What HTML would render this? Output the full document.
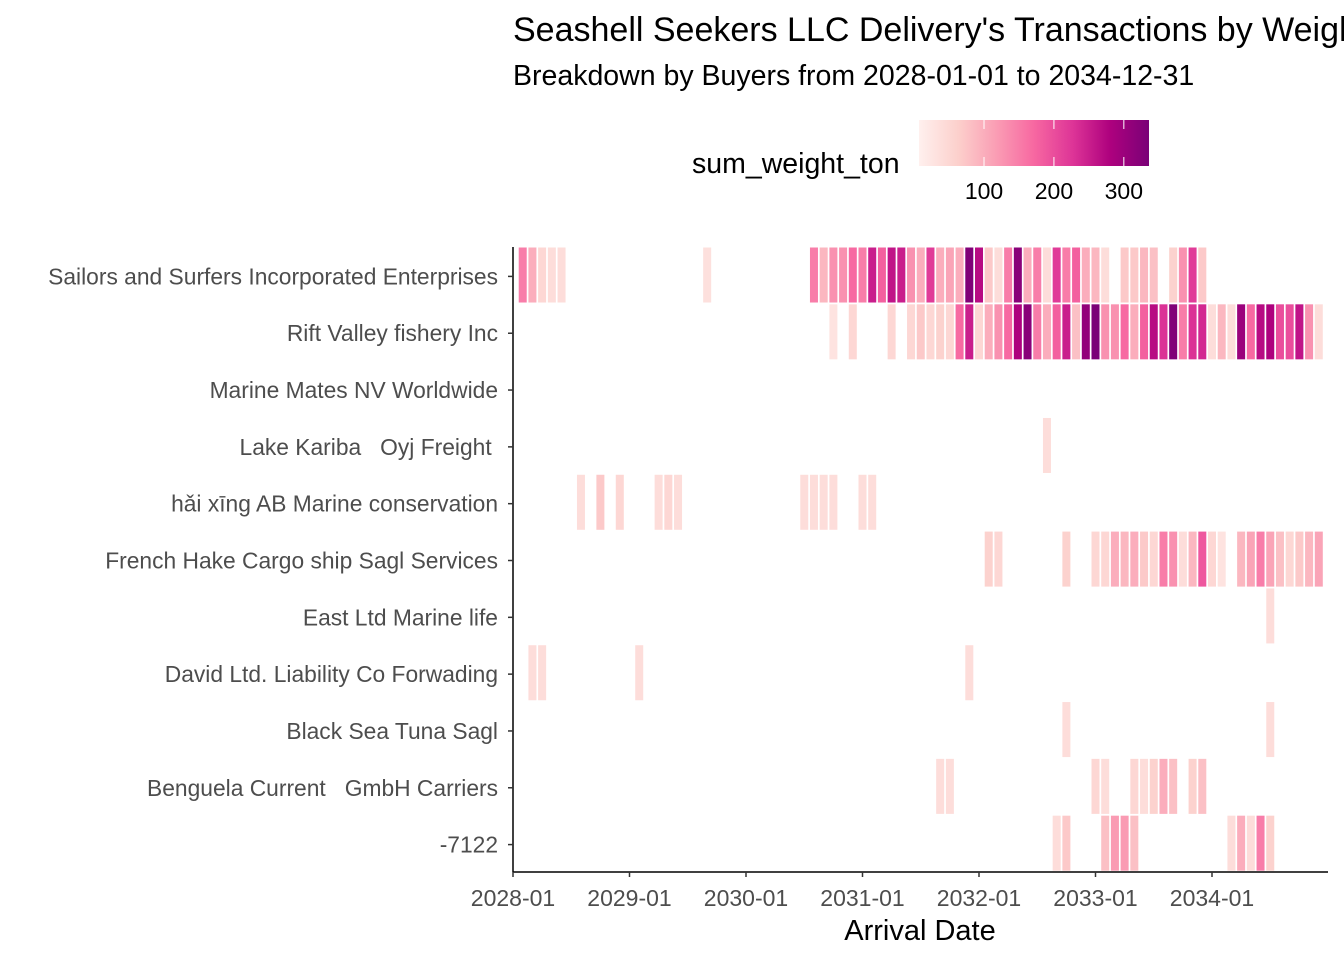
<!DOCTYPE html>
<html><head><meta charset="utf-8"><style>
body{margin:0;background:#fff;}
svg text{font-family:"Liberation Sans","DejaVu Sans",sans-serif;white-space:pre;}
</style></head><body>
<svg id="c" width="1344" height="960" xmlns="http://www.w3.org/2000/svg">
<defs><linearGradient id="lg" x1="0" x2="1" y1="0" y2="0">
<stop offset="0" stop-color="#fff0ee"/><stop offset="0.17" stop-color="#fcd0cc"/><stop offset="0.33" stop-color="#fa9fb5"/><stop offset="0.5" stop-color="#f768a1"/><stop offset="0.67" stop-color="#dd3497"/><stop offset="0.83" stop-color="#ae017e"/><stop offset="1" stop-color="#7a0177"/></linearGradient></defs>
<text x="513" y="41" font-size="34" fill="#000">Seashell Seekers LLC Delivery's Transactions by Weight</text>
<text x="513" y="85" font-size="28.5" fill="#000">Breakdown by Buyers from 2028-01-01 to 2034-12-31</text>
<g>
<text x="692" y="173" font-size="28.5" fill="#000">sum_weight_ton</text>
<rect x="919" y="120" width="230" height="46" fill="url(#lg)"/>
<g id="legticks"></g>
</g>
<g id="tiles"></g>
<g id="axes"></g>
<text x="920" y="940" font-size="29" text-anchor="middle" fill="#000">Arrival Date</text>
</svg>
<script>
const buyers=["Sailors and Surfers Incorporated Enterprises","Rift Valley fishery Inc","Marine Mates NV Worldwide","Lake Kariba   Oyj Freight ","hǎi xīng AB Marine conservation","French Hake Cargo ship Sagl Services","East Ltd Marine life","David Ltd. Liability Co Forwading","Black Sea Tuna Sagl","Benguela Current   GmbH Carriers","-7122"];
const xTickLabels=["2028-01","2029-01","2030-01","2031-01","2032-01","2033-01","2034-01"];
const legendTicks=[100,200,300];
// month index (0 = 2028-01) : weight, per buyer
const row0={1:150,2:100,3:50,4:40,5:40,20:35,31:150,32:90,33:130,34:130,35:170,36:150,37:250,38:180,39:260,40:250,41:130,42:100,43:220,44:100,45:110,46:100,47:330,48:270,49:70,50:40,51:150,52:320,53:100,54:150,55:40,56:220,57:150,58:180,59:100,60:90,61:40,63:70,64:70,65:90,66:80,68:60,69:130,70:220,71:70};
const row1={33:30,35:50,39:50,41:50,42:70,43:50,44:60,45:50,46:170,47:250,48:50,49:100,50:130,51:170,52:280,53:320,54:150,55:100,56:180,57:250,58:80,59:310,60:340,61:130,62:130,63:170,64:100,65:180,66:270,67:230,68:330,69:150,70:230,71:240,72:40,73:90,74:40,75:300,76:170,77:270,78:280,79:200,80:200,81:260,82:130,83:40};
const row2={};
const row3={55:40};
const row4={7:40,9:70,11:50,15:40,16:50,17:40,30:40,31:40,32:40,33:40,36:40,37:40};
const row5={49:60,50:50,57:60,60:50,61:50,62:100,63:90,64:100,65:70,66:50,67:150,68:130,69:40,70:90,71:190,72:50,73:30,75:90,76:110,77:150,78:110,79:80,80:50,81:70,82:90,83:110};
const row6={78:40};
const row7={2:40,3:40,13:40,47:40};
const row8={57:40,78:40};
const row9={44:40,45:40,60:50,61:40,64:50,65:40,66:60,67:100,68:80,70:60,71:80};
const row10={56:40,57:70,61:80,62:120,63:120,64:80,74:40,75:100,76:40,77:150,78:60};
const rows=[row0,row1,row2,row3,row4,row5,row6,row7,row8,row9,row10];

const NS="http://www.w3.org/2000/svg";
const X0=513,MW=116.5/12,Y0=247,BH=625/11;
const vmin=7,vmax=336;
const xS=m=>X0+m*MW;
const yS=i=>Y0+i*BH;
const stops=[[0,[255,240,238]],[0.17,[252,208,204]],[0.33,[250,159,181]],[0.5,[247,104,161]],[0.67,[221,52,151]],[0.83,[174,1,126]],[1,[122,1,119]]];
function col(v){let t=Math.max(0,Math.min(1,(v-vmin)/(vmax-vmin)));
 for(let k=1;k<stops.length;k++){if(t<=stops[k][0]){const a=stops[k-1],b=stops[k];const f=(t-a[0])/(b[0]-a[0]);
 const c=a[1].map((x,j)=>Math.round(x+(b[1][j]-x)*f));return `rgb(${c})`;}}return "rgb(122,1,119)";}
function mk(tag,at,parent){const e=document.createElementNS(NS,tag);for(const k in at)e.setAttribute(k,at[k]);parent.appendChild(e);return e;}
const tg=document.getElementById('tiles');
rows.forEach((r,i)=>{for(const m in r){
 const e=mk('rect',{x:xS(+m)-4,y:yS(i)+0.5,width:MW-1.7,height:BH-1.8,fill:col(r[m])},tg);
 
 
}});
const ax=document.getElementById('axes');
const yl=mk('line',{x1:X0,y1:Y0,x2:X0,y2:872,stroke:'#000','stroke-width':1.5},ax);


const xl=mk('line',{x1:X0,y1:872,x2:1328,y2:872,stroke:'#000','stroke-width':1.5},ax);


buyers.forEach((b,i)=>{const yc=yS(i)+BH/2+1;
 mk('line',{x1:X0-5,y1:yc,x2:X0,y2:yc,stroke:'#333','stroke-width':1.5},ax);
 const t=mk('text',{x:498,y:yc+8,'font-size':22.8,'text-anchor':'end',fill:'#4d4d4d'},ax);t.textContent=b;
 
 
});
xTickLabels.forEach((l,i)=>{const x=xS(i*12);
 mk('line',{x1:x,y1:872,x2:x,y2:877,stroke:'#333','stroke-width':1.5},ax);
 const t=mk('text',{x:x,y:906,'font-size':23,'text-anchor':'middle',fill:'#4d4d4d'},ax);t.textContent=l;
 
 
});
const lt=document.getElementById('legticks');
legendTicks.forEach(v=>{const x=919+(v-vmin)/(vmax-vmin)*230;
 mk('line',{x1:x,y1:120,x2:x,y2:129,stroke:'#fff','stroke-width':1},lt);
 mk('line',{x1:x,y1:157,x2:x,y2:166,stroke:'#fff','stroke-width':1},lt);
 const t=mk('text',{x:x,y:199,'font-size':23,'text-anchor':'middle',fill:'#000'},lt);t.textContent=v;
 
 
});
</script>
</body></html>
